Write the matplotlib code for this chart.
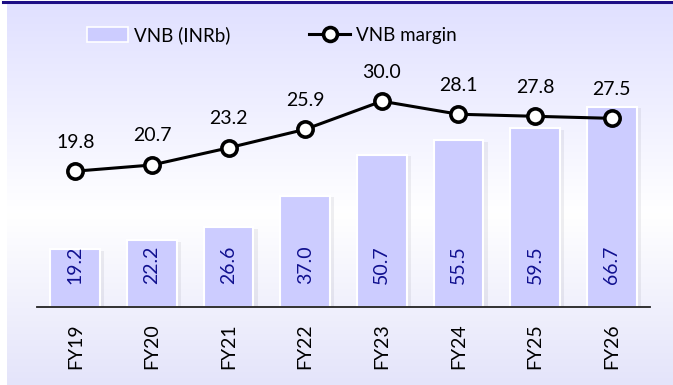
import numpy as np
import matplotlib
matplotlib.use("Agg")
import matplotlib.pyplot as plt
from matplotlib import patheffects
from matplotlib.lines import Line2D
from matplotlib.patches import Patch

plt.rcParams['font.family'] = ['Lato', 'DejaVu Sans']

anos = ['FY19', 'FY20', 'FY21', 'FY22', 'FY23', 'FY24', 'FY25', 'FY26']
vnb = [19.2, 22.2, 26.6, 37.0, 50.7, 55.5, 59.5, 66.7]
margem = [19.8, 20.7, 23.2, 25.9, 30.0, 28.1, 27.8, 27.5]

W, H = 673, 385
fig = plt.figure(figsize=(W / 100, H / 100), dpi=100)
fig.patch.set_facecolor('white')

# fundo em degrade: lilas em cima, branco no meio, lilas embaixo
fundo = fig.add_axes([7 / W, 0, 1 - 7 / W, 1 - 3 / H])
fundo.set_axis_off()
pos = np.linspace(0, 1, 400)
topo = np.array([224, 224, 255]) / 255
base = np.array([228, 228, 250]) / 255
branco = np.ones(3)
grad = np.zeros((400, 1, 3))
for i, p in enumerate(pos):
    if p < 0.55:
        t = p / 0.55
        grad[i, 0] = topo * (1 - t) + branco * t
    else:
        t = (p - 0.55) / 0.45
        grad[i, 0] = branco * (1 - t) + base * t
fundo.imshow(grad, aspect='auto', extent=[0, 1, 0, 1])

# linha azul escura no topo
fig.add_artist(plt.Line2D([3 / W, 1], [1 - 1.5 / H, 1 - 1.5 / H],
                          color='#1c0d85', lw=2.2))

ax = fig.add_axes([37 / W, 78 / H, (650 - 37) / W, (307 - 3) / H])
ax.patch.set_alpha(0)
x = np.arange(len(anos))
barras = ax.bar(x, vnb, width=0.65, color='#ccccff', edgecolor='white',
                linewidth=1.5, zorder=2)
for b in barras:
    b.set_path_effects([patheffects.SimplePatchShadow(offset=(3, -1), alpha=0.08),
                        patheffects.Normal()])
for xi, v in zip(x, vnb):
    ax.text(xi, 14, f'{v:.1f}', rotation=90, ha='center', va='center',
            fontsize=14, color='#10108f', zorder=3)

ax.set_xlim(-0.5, 7.5)
ax.set_ylim(0, 304 / 3.0)
ax.set_xticks(x)
ax.set_xticklabels(anos, rotation=90, fontsize=14)
ax.tick_params(axis='x', length=0, pad=12)
ax.set_yticks([])
for s in ['top', 'left', 'right']:
    ax.spines[s].set_visible(False)
ax.spines['bottom'].set_color('#222222')
ax.spines['bottom'].set_linewidth(1.3)

ax2 = ax.twinx()
ax2.set_ylim(0, 304 / 6.86)
ax2.plot(x, margem, color='black', lw=2.2, marker='o', markersize=11,
         markerfacecolor='white', markeredgecolor='black', markeredgewidth=2.6,
         zorder=4)
for xi, v in zip(x, margem):
    ax2.annotate(f'{v:.1f}', (xi, v), xytext=(0, 21), textcoords='offset points',
                 ha='center', va='center', fontsize=14, color='black')
ax2.set_yticks([])
for s in ax2.spines.values():
    s.set_visible(False)

handles = [Patch(facecolor='#ccccff', edgecolor='white', linewidth=1.2),
           Line2D([], [], color='black', lw=2.2, marker='o', markersize=10,
                  markerfacecolor='white', markeredgewidth=2.6)]
ax2.legend(handles, ['VNB (INRb)', 'VNB margin'], loc='center',
           bbox_to_anchor=((272 - 37) / (650 - 37), 1 - 32 / 304), ncol=2,
           frameon=False, fontsize=13.5, handlelength=2.2, handleheight=0.8,
           handletextpad=0.3, columnspacing=4.2)

fig.savefig('out.png', dpi=100)
